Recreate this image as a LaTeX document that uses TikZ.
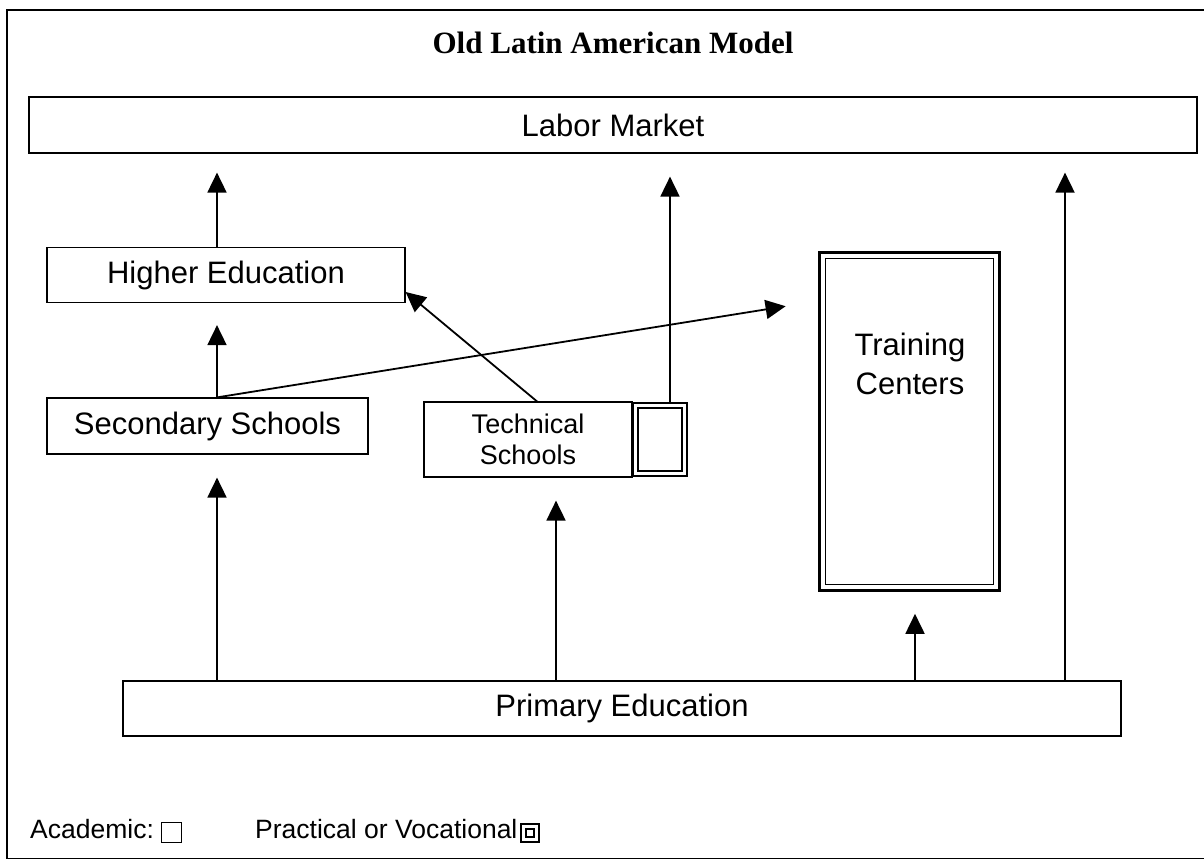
\documentclass[tikz,border=0pt]{standalone}
\usepackage{fontspec}
\setmainfont{Liberation Serif}
\newfontfamily\arialfont{Liberation Sans}
\usetikzlibrary{arrows.meta,calc}
\begin{document}
\begin{tikzpicture}[x=1pt,y=-1pt,
  box/.style={draw, line width=1.2pt, inner sep=0pt, font=\arialfont\fontsize{31}{36}\selectfont, align=center},
  arr/.style={line width=1.8pt, -{Triangle[length=20pt,width=19pt]}},
  lbl/.style={inner sep=0pt, font=\arialfont\fontsize{26.5}{30}\selectfont, anchor=base west}
]
\useasboundingbox (0,0) rectangle (1204,860);
% outer frame
\draw[line width=1.6pt] (1204,10) -- (7,10) -- (7,858.5) -- (1204,858.5);

\node[font=\bfseries\fontsize{31}{36}\selectfont, anchor=base] (title) at (613,53) {Old Latin American Model};

\node[box, minimum width=1168, minimum height=56] (lab) at (613,125) {Labor Market};
\node[box, minimum width=358, minimum height=55] (hig) at (226,275) {Higher Education};
\node[box, minimum width=321, minimum height=56] (sec) at (207.5,426) {Secondary Schools};
\node[box, minimum width=208, minimum height=75, font=\arialfont\fontsize{27}{31}\selectfont] (tec) at (528,439.5) {Technical\\Schools};
\node[draw, line width=2.6pt, minimum width=54, minimum height=73, inner sep=0pt] (tecv) at (660,439.5) {};
\node[draw, line width=1.8pt, minimum width=44, minimum height=63, inner sep=0pt] at (tecv.center) {};
\node[draw, line width=2.6pt, minimum width=180, minimum height=338, inner sep=0pt] (tra) at (909.5,421.5) {};
\node[draw, line width=1.8pt, minimum width=168, minimum height=326, inner sep=0pt] at (tra.center) {};
\node[inner sep=0pt, align=center, font=\arialfont\fontsize{31}{39}\selectfont] (tratxt) at (910,364) {Training\\Centers};
\node[box, minimum width=998, minimum height=55] (pri) at (622,708.5) {Primary Education};

\coordinate (xA) at (217,0);
\coordinate (xB) at (556,0);
\coordinate (xC) at (670,0);
\coordinate (xD) at (915,0);
\coordinate (xE) at (1065,0);
\coordinate (xT) at (537,0);
\coordinate (yT) at (0,301);
\coordinate (yH) at (0,292);

\draw[arr, shorten >=23pt] (pri.north -| xA) -- (sec.south -| xA);
\draw[arr, shorten >=22pt] (sec.north -| xA) -- (hig.south -| xA);
\draw[arr, shorten >=19pt] (hig.north -| xA) -- (lab.south -| xA);
\draw[arr, shorten >=23pt] (pri.north -| xB) -- (tec.south -| xB);
\draw[arr, shorten >=23pt] (tecv.north -| xC) -- (lab.south -| xC);
\draw[arr, shorten >=22pt] (pri.north -| xD) -- (tra.south -| xD);
\draw[arr, shorten >=19pt] (pri.north -| xE) -- (lab.south -| xE);
\draw[arr, shorten >=33pt] (sec.north -| xA) -- (tra.west |- yT);
\draw[arr] (tec.north -| xT) -- (hig.east |- yH);

% legend
\node[lbl] (acad) at (30,838) {Academic:};
\node[draw, line width=1.3pt, minimum width=20, minimum height=20, inner sep=0pt, anchor=south west] (acsym) at (161,843) {};
\node[lbl] (prac) at (255,838) {Practical or Vocational};
\node[draw, line width=2.2pt, minimum width=18, minimum height=18, inner sep=0pt, anchor=south west] (vosym) at ([xshift=2pt,yshift=-5pt]prac.base east) {};
\node[draw, line width=1.8pt, minimum width=8, minimum height=8, inner sep=0pt] at (vosym.center) {};
\end{tikzpicture}
\end{document}
